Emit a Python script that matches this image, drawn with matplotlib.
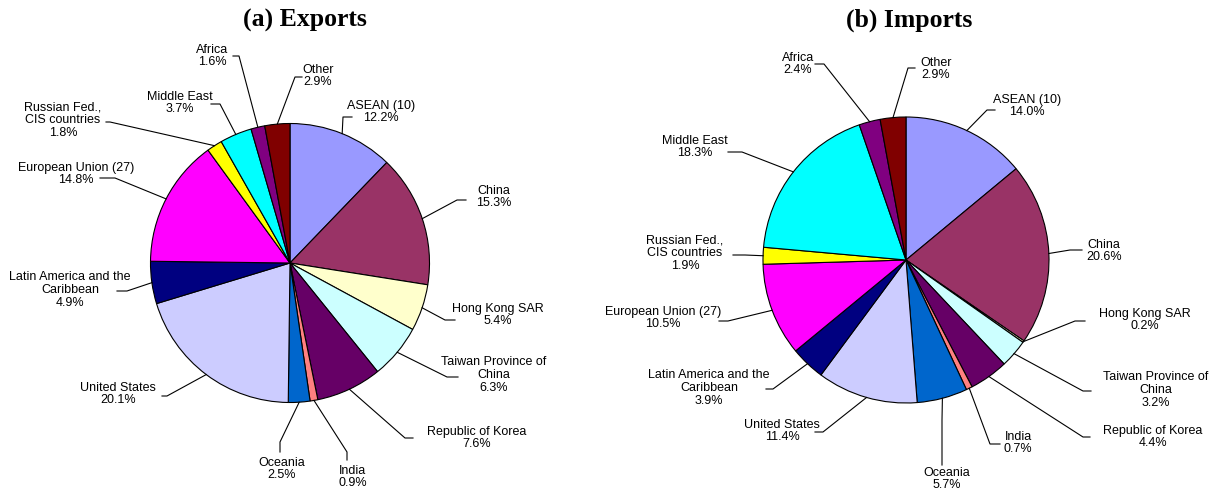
import numpy as np
import matplotlib
matplotlib.use("Agg")
from matplotlib import pyplot as plt

# regions in pie order (clockwise from 12 o'clock)
regions = ["ASEAN (10)", "China", "Hong Kong SAR", "Taiwan Province of\nChina",
           "Republic of Korea", "India", "Oceania", "United States",
           "Latin America and the\nCaribbean", "European Union (27)",
           "Russian Fed.,\nCIS countries", "Middle East", "Africa", "Other"]
exports = [12.2, 15.3, 5.4, 6.3, 7.6, 0.9, 2.5, 20.1, 4.9, 14.8, 1.8, 3.7, 1.6, 2.9]
imports = [14.0, 20.6, 0.2, 3.2, 4.4, 0.7, 5.7, 11.4, 3.9, 10.5, 1.9, 18.3, 2.4, 2.9]
colors = ["#9999FF", "#993366", "#FFFFCC", "#CCFFFF", "#660066", "#FF8080", "#0066CC",
          "#CCCCFF", "#000080", "#FF00FF", "#FFFF00", "#00FFFF", "#800080", "#800000"]

W, H = 1218, 493

# label layout in pixels: text centre, then leader elbow and end points
exp_text = [(381, 112), (494, 197), (498, 315), (494, 375), (477, 438), (353, 477), (282, 469),
            (118, 394), (70, 290), (76, 174), (63, 120), (180, 103), (212, 56), (318, 76)]
exp_lead = [[(343, 117), (352, 117)], [(457, 200), (466, 200)], [(445, 320), (455, 320)],
            [(447, 377), (458, 377)], [(405, 438), (413, 438)], [(347, 452), (347, 460)],
            [(280, 442), (280, 452)], [(167, 396), (162, 396)], [(127, 291), (117, 291)],
            [(115, 178), (100, 178)], [(110, 122), (106, 122)], [(220, 104), (211, 104)],
            [(239, 56), (233, 56)], [(295, 77), (302, 77)]]
imp_text = [(1027, 106), (1104, 251), (1145, 320), (1156, 390), (1153, 437), (1018, 443), (947, 479),
            (782, 431), (709, 388), (663, 318), (685, 253), (695, 147), (798, 64), (936, 69)]
imp_lead = [[(987, 110), (995, 110)], [(1070, 250), (1082, 250)], [(1075, 321), (1085, 321)],
            [(1083, 391), (1091, 391)], [(1083, 437), (1090, 437)], [(990, 444), (1000, 444)],
            [(942, 420), (942, 465)], [(823, 432), (815, 432)], [(773, 389), (766, 389)],
            [(728, 321), (719, 321)], [(745, 255), (733, 255)], [(742, 152), (728, 152)],
            [(824, 64), (815, 64)], [(908, 68), (915, 68)]]

plt.rcParams['font.family'] = ['Liberation Sans', 'DejaVu Sans']

fig = plt.figure(figsize=(W / 100, H / 100), dpi=100)
ax = fig.add_axes([0, 0, 1, 1])


def px(x, y):
    return x, H - y


def draw_pie(vals, centre, r, texts, leads, title, title_x):
    cx, cy = px(*centre)
    wedges, _ = ax.pie(vals, colors=colors, startangle=90, counterclock=False,
                       center=(cx, cy), radius=r,
                       wedgeprops=dict(edgecolor="black", linewidth=0.8))
    for w, name, v, t, ld in zip(wedges, regions, vals, texts, leads):
        mid = np.deg2rad((w.theta1 + w.theta2) / 2)
        xs = [cx + r * np.cos(mid)] + [p[0] for p in ld]
        ys = [cy + r * np.sin(mid)] + [H - p[1] for p in ld]
        ax.plot(xs, ys, color="black", lw=0.8)
        ax.text(*px(*t), f"{name}\n{v:.1f}%", ha="center", va="center",
                multialignment="center", fontsize=9, linespacing=1.1)
    ax.text(*px(title_x, 20), title, ha="center", va="center", fontsize=18.5,
            fontweight="bold", family="Liberation Serif")


draw_pie(exports, (290, 263), 139.5, exp_text, exp_lead, "(a) Exports", 305)
draw_pie(imports, (906, 260), 143, imp_text, imp_lead, "(b) Imports", 909)

ax.set_xlim(0, W)
ax.set_ylim(0, H)
ax.set_aspect("auto")
ax.axis("off")

fig.savefig("out.png", dpi=100)
